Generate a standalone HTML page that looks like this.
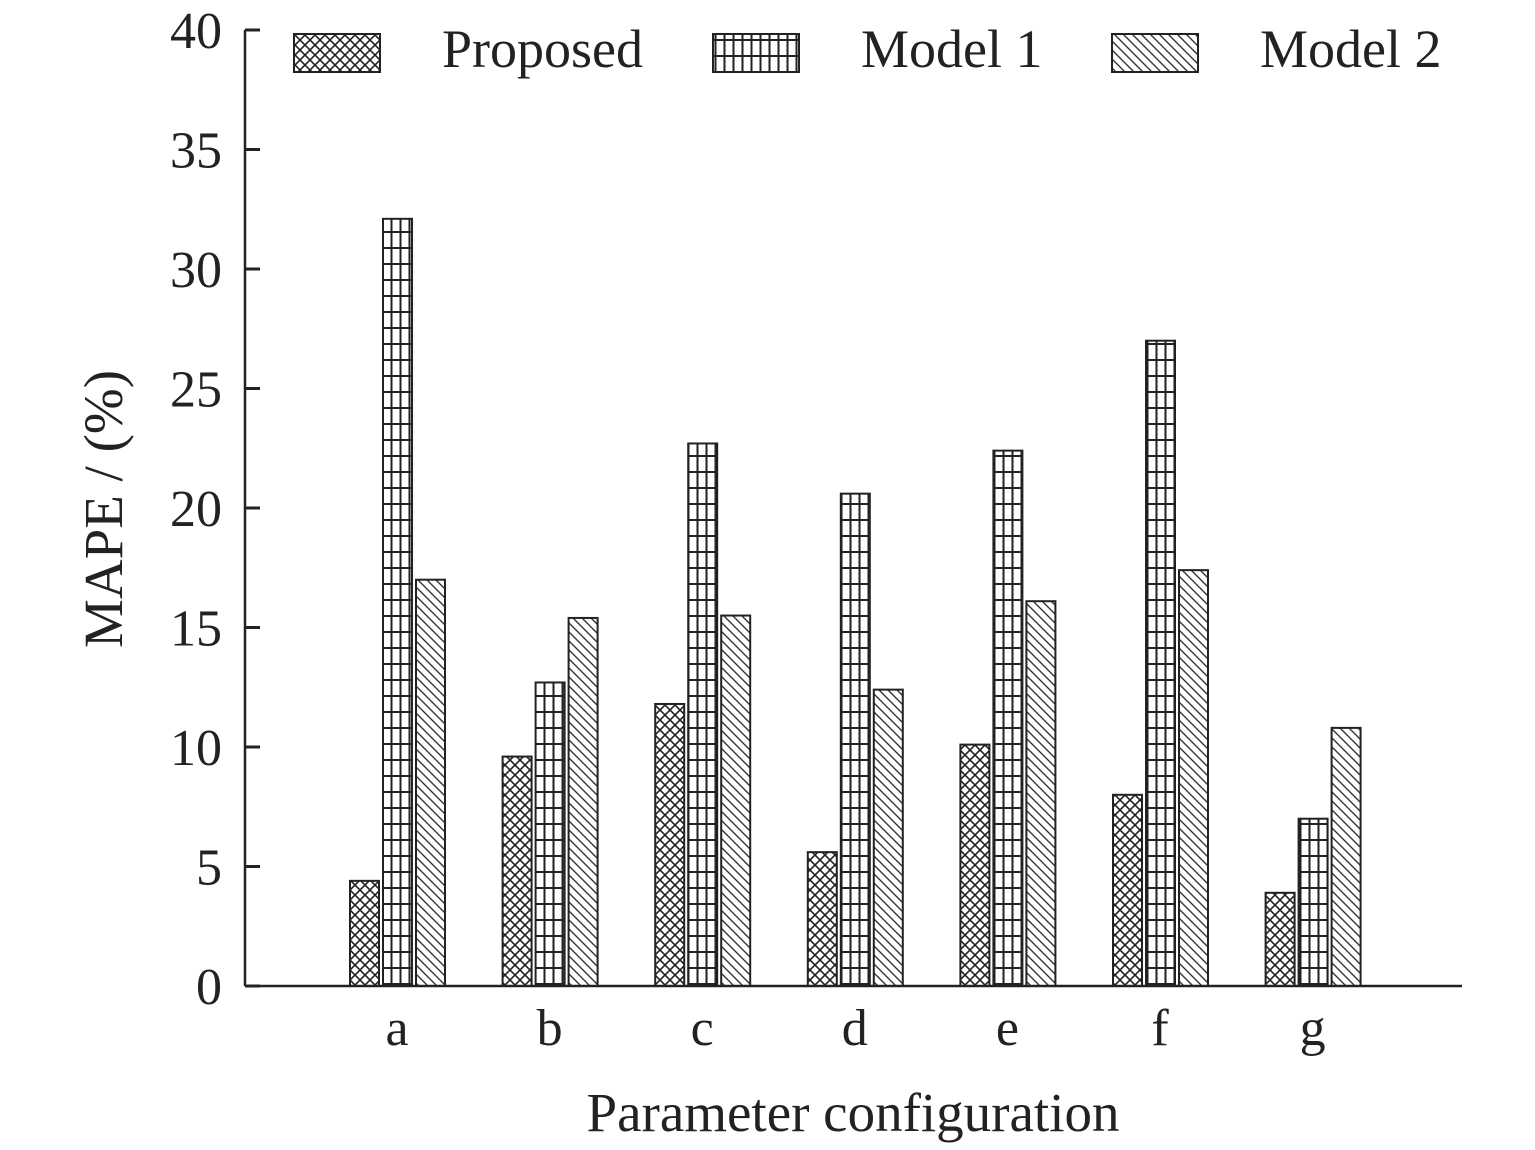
<!DOCTYPE html>
<html><head><meta charset="utf-8"><style>
html,body{margin:0;padding:0;background:#fff;}
svg{display:block;font-family:"Liberation Serif",serif;}
</style></head><body>
<svg id="chart" width="1535" height="1150" xmlns="http://www.w3.org/2000/svg">
<defs>
<pattern id="pCross" width="10" height="10" patternUnits="userSpaceOnUse">
<rect width="10" height="10" fill="#fff"/>
<path d="M0,0 L10,10 M10,0 L0,10" stroke="#222" stroke-width="1.6"/>
</pattern>
<pattern id="pGrid" width="9" height="16" patternUnits="userSpaceOnUse">
<rect width="9" height="16" fill="#fff"/>
<path d="M4.5,0 V16 M0,8 H9" stroke="#222" stroke-width="2"/>
</pattern>
<pattern id="pDiag" width="9" height="9" patternUnits="userSpaceOnUse">
<rect width="9" height="9" fill="#fff"/>
<path d="M0,0 L9,9 M-2,7 L2,11 M7,-2 L11,2" stroke="#333" stroke-width="1.4"/>
</pattern>
</defs>
<g id="bars"></g>
<g id="axes"></g>
<g id="legend"></g>
<text transform="translate(122,509) rotate(-90)" text-anchor="middle" font-size="55" fill="#222">MAPE / (%)</text>
<text x="853" y="1131" text-anchor="middle" font-size="55" fill="#222">Parameter configuration</text>
</svg>
<script>
const categories = ["a","b","c","d","e","f","g"];
const seriesNames = ["Proposed","Model 1","Model 2"];
const proposed = [4.4, 9.6, 11.8, 5.6, 10.1, 8.0, 3.9];
const model1 = [32.1, 12.7, 22.7, 20.6, 22.4, 27.0, 7.0];
const model2 = [17.0, 15.4, 15.5, 12.4, 16.1, 17.4, 10.8];
const yTicks = [0,5,10,15,20,25,30,35,40];

const NS="http://www.w3.org/2000/svg";
const x0=245, xEnd=1462, yBase=986, yTop=30;
function yScale(v){return yBase-(v/40)*(yBase-yTop);}
function xCenter(i){return 397+i*152.6;}
function mk(tag,attrs,parent){const e=document.createElementNS(NS,tag);for(const k in attrs)e.setAttribute(k,attrs[k]);parent.appendChild(e);return e;}
const fills=["url(#pCross)","url(#pGrid)","url(#pDiag)"];
const series=[proposed,model1,model2];
const offsets=[-47,-14,19];
const bw=29;
const gb=document.getElementById("bars");
series.forEach((s,si)=>{
  s.forEach((v,i)=>{
    const r=mk("rect",{x:xCenter(i)+offsets[si],y:yScale(v),width:bw,height:yBase-yScale(v),fill:fills[si],stroke:"#222","stroke-width":2},gb);
    
    
  });
});
const ga=document.getElementById("axes");
const yl=mk("line",{x1:x0,y1:yTop,x2:x0,y2:yBase,stroke:"#222","stroke-width":2.5},ga);


const xl=mk("line",{x1:x0,y1:yBase,x2:xEnd,y2:yBase,stroke:"#222","stroke-width":2.5},ga);


yTicks.forEach(t=>{
  const y=yScale(t);
  mk("line",{x1:x0,y1:y,x2:x0+15,y2:y,stroke:"#222","stroke-width":3},ga);
  const tx=mk("text",{x:222,y:y+18,"text-anchor":"end","font-size":52,fill:"#222"},ga);
  tx.textContent=t;
  
  
});
categories.forEach((c,i)=>{
  const tx=mk("text",{x:xCenter(i),y:1045,"text-anchor":"middle","font-size":52,fill:"#222"},ga);
  tx.textContent=c;
  
  
});
const gl=document.getElementById("legend");
const lx=[294,713,1112];
seriesNames.forEach((n,i)=>{
  const g=mk("g",{},gl);
  
  
  mk("rect",{x:lx[i],y:34,width:86,height:38,fill:fills[i],stroke:"#222","stroke-width":2},g);
  const t=mk("text",{x:lx[i]+148,y:67,"font-size":54,fill:"#222"},g);
  t.textContent=n;
});
</script>
</body></html>
